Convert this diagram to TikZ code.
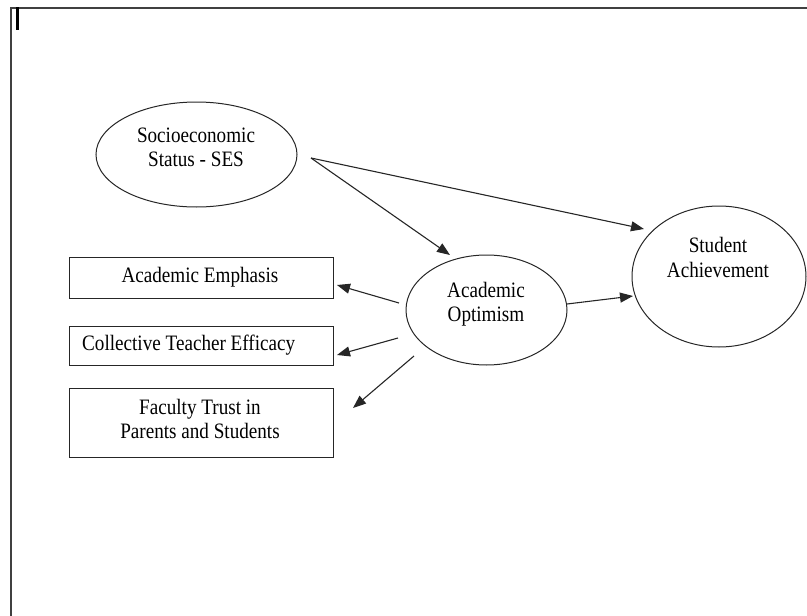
\documentclass[tikz,border=0pt]{standalone}
\usepackage{fontspec}
\setmainfont[FakeStretch=0.87]{Liberation Serif}
\usetikzlibrary{arrows.meta,shapes.geometric}
\begin{document}
\begin{tikzpicture}[x=1pt,y=-1pt,
  font=\fontsize{22}{24}\selectfont,
  oval/.style={draw=black!85,line width=1pt,ellipse,inner sep=0pt},
  boxnode/.style={draw=black!85,line width=1pt,rectangle,inner sep=0pt,minimum width=264pt},
  lbl/.style={anchor=base,inner sep=0pt},
  link/.style={draw=black!85,line width=1.1pt,-{Triangle[length=13pt,width=10pt]}},
  frame/.style={draw=black!75,line width=1.6pt}]
\useasboundingbox (0,0) rectangle (807,616);
% frame
\draw[frame] (10,8) -- (807,8);
\draw[frame] (11,8) -- (11,616);
\draw[line width=3pt] (17.5,7) -- (17.5,30);
% shapes
\node[oval,minimum width=201pt,minimum height=105pt] (ses) at (196.5,154.5) {};
\node[oval,minimum width=161pt,minimum height=110pt] (ao) at (486.5,310) {};
\node[oval,minimum width=174pt,minimum height=141pt] (sa) at (719,276.5) {};
\node[boxnode,minimum height=41pt] (ae) at (201,277.5) {};
\node[boxnode,minimum height=39pt] (cte) at (201,345.5) {};
\node[boxnode,minimum height=69pt] (ft) at (201,422.5) {};
% texts
\node[lbl] (ses1) at (196,142) {Socioeconomic};
\node[lbl] (ses2) at (196,166) {Status - SES};
\node[lbl] (ao1) at (486,297) {Academic};
\node[lbl] (ao2) at (486,321) {Optimism};
\node[lbl] (sa1) at (718,252) {Student};
\node[lbl] (sa2) at (718,277) {Achievement};
\node[lbl] (ae1) at (200,282) {Academic Emphasis};
\node[lbl,anchor=base west] (cte1) at (82,350) {Collective Teacher Efficacy};
\node[lbl] (ft1) at (200,414) {Faculty Trust in};
\node[lbl] (ft2) at (200,438) {Parents and Students};
% connector ends
\coordinate (sesout) at (311,158);
\coordinate (aoin) at (450,255);
\coordinate (sain1) at (644,229);
\coordinate (aoout1) at (567,304);
\coordinate (sain2) at (633,296);
\coordinate (aoout2) at (399,303);
\coordinate (aein) at (337,285);
\coordinate (aoout3) at (398,338);
\coordinate (ctein) at (337,355);
\coordinate (aoout4) at (414,356);
\coordinate (ftin) at (353,408);
\draw[link] (sesout) -- (aoin);
\draw[link] (sesout) -- (sain1);
\draw[link] (aoout1) -- (sain2);
\draw[link] (aoout2) -- (aein);
\draw[link] (aoout3) -- (ctein);
\draw[link] (aoout4) -- (ftin);
\end{tikzpicture}
\end{document}
